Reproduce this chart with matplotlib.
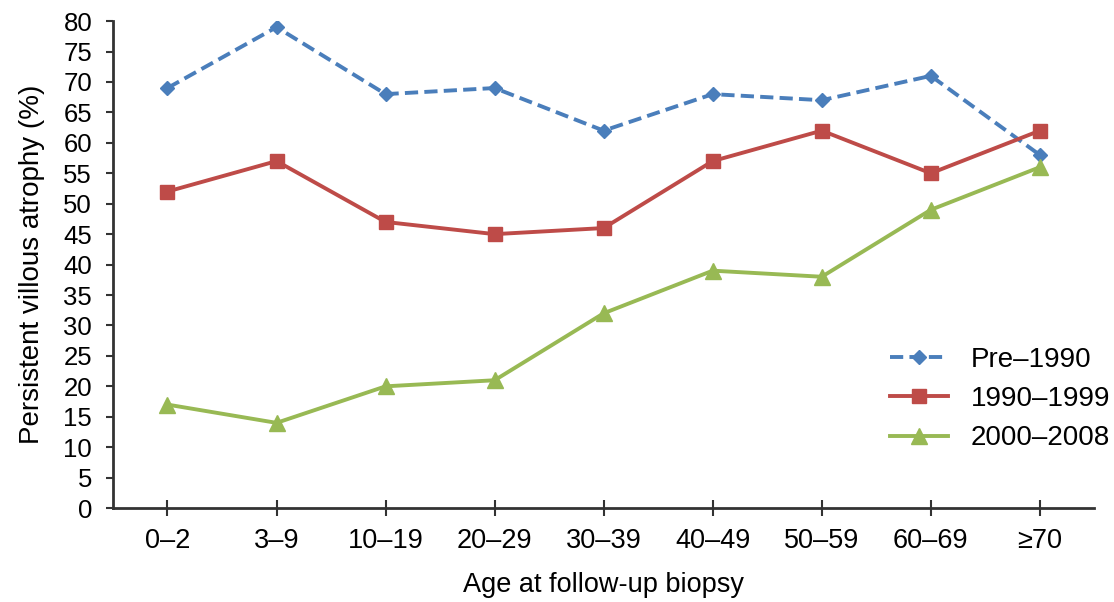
import matplotlib
matplotlib.use("Agg")
import matplotlib.pyplot as plt

plt.rcParams['font.family'] = ['Liberation Sans', 'DejaVu Sans']

age_groups = ["0–2", "3–9", "10–19", "20–29", "30–39", "40–49", "50–59", "60–69", "≥70"]
pre_1990 = [69, 79, 68, 69, 62, 68, 67, 71, 58]
y1990_1999 = [52, 57, 47, 45, 46, 57, 62, 55, 62]
y2000_2008 = [17, 14, 20, 21, 32, 39, 38, 49, 56]
y_ticks = list(range(0, 81, 5))

fig = plt.figure(figsize=(11.14, 6.02), dpi=100)
ax = fig.add_axes([0.1014, 0.156, 0.881, 0.809])

x = list(range(len(age_groups)))
ax.plot(x, pre_1990, color="#4a7ebb", lw=2.8, ls=(0, (3.4, 1.6)), marker="D",
        ms=7.5, mec="#4a7ebb", mfc="#4a7ebb", label="Pre–1990", zorder=3)
ax.plot(x, y1990_1999, color="#be4b48", lw=2.8, marker="s",
        ms=10.5, mec="#be4b48", mfc="#be4b48", label="1990–1999", zorder=3)
ax.plot(x, y2000_2008, color="#98b954", lw=2.8, marker="^",
        ms=11, mec="#98b954", mfc="#98b954", label="2000–2008", zorder=3)

ax.set_xlim(-0.5, len(age_groups) - 0.5)
ax.set_ylim(0, 80)
ax.set_xticks(x)
ax.set_xticklabels(age_groups)
ax.set_yticks(y_ticks)

for side in ("top", "right"):
    ax.spines[side].set_visible(False)
for side in ("left", "bottom"):
    ax.spines[side].set_linewidth(2.0)
    ax.spines[side].set_color("#333333")

ax.tick_params(axis="y", direction="out", length=5, width=1.5, labelsize=18.5,
               pad=10, color="#333333")
ax.tick_params(axis="x", direction="inout", length=12, width=1.5, labelsize=19.5,
               pad=8, color="#333333")

ax.set_xlabel("Age at follow-up biopsy", fontsize=19.5, labelpad=13)
ax.set_ylabel("Persistent villous atrophy (%)", fontsize=20, labelpad=13)

ax.legend(loc="center left", bbox_to_anchor=(890 / 1114, 203 / 602),
          bbox_transform=fig.transFigure, frameon=False, fontsize=20,
          handlelength=2.1, labelspacing=0.48, handletextpad=0.8,
          borderpad=0, borderaxespad=0)

fig.savefig("out.png", dpi=100)
